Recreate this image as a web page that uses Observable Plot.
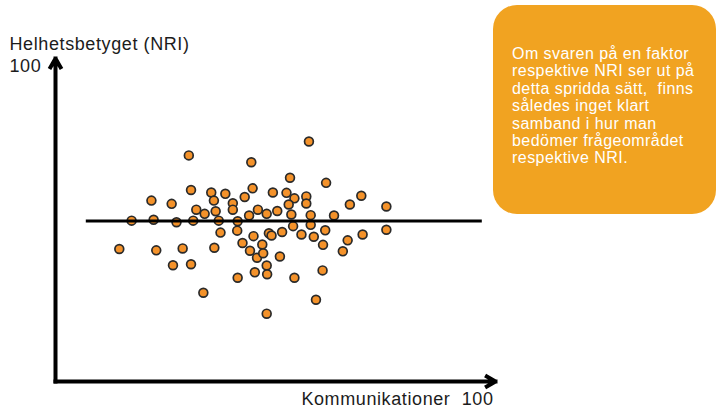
<!DOCTYPE html>
<html>
<head>
<meta charset="utf-8">
<script src="https://cdn.jsdelivr.net/npm/d3@7"></script>
<script src="https://cdn.jsdelivr.net/npm/@observablehq/plot@0.6"></script>
<style>
  html, body { margin: 0; padding: 0; background: #fff; }
  #wrap { position: relative; width: 717px; height: 411px; overflow: hidden; }
  #callout {
    position: absolute; left: 493px; top: 5px; width: 223px; height: 209px;
    box-sizing: border-box; border-radius: 24px; background: #F1A321;
    color: #fff; font-family: "Liberation Sans", Arial, sans-serif; font-size: 16px;
    letter-spacing: 0.45px; line-height: 17.4px; padding: 40px 0 0 19px;
    white-space: nowrap;
  }
</style>
</head>
<body>
<div id="wrap">
  <div id="chart"></div>
  <div id="callout"></div>
</div>
<script>
// Kommunikationer (x) and Helhetsbetyget NRI (y), scale 0–100
const kommunikation = [30.3,44.5,30.8,21.8,26.4,35.4,38.6,44.8,36.0,43.0,40.3,32.0,33.9,36.4,40.3,44.0,46.0,17.3,22.3,27.5,31.3,37.1,41.4,37.5,41.3,45.0,42.5,14.5,22.9,28.9,36.1,44.2,47.0,45.8,26.7,30.8,45.3,41.4,33.6,57.6,53.3,61.5,49.4,52.5,54.3,57.0,57.0,53.0,66.9,69.5,75.2,48.0,50.4,53.6,58.0,63.3,54.0,58.0,61.3,75.2,48.5,49.1,51.5,55.9,58.7,60.8,66.4,69.8,65.3,47.2,51.0,48.0,48.1,54.3,60.7,59.2,48.0];
const nri = [70.0,67.9,59.3,56.0,55.0,58.5,58.1,59.8,56.0,57.1,55.2,53.2,51.9,52.7,53.2,51.4,53.2,49.8,50.1,49.3,49.8,49.8,49.6,46.1,46.7,45.0,42.9,41.0,40.6,41.2,41.4,40.5,42.4,38.3,36.0,36.3,33.8,32.1,27.5,74.3,63.1,61.5,58.5,58.4,56.7,57.3,55.1,54.8,54.8,57.5,54.2,51.9,52.8,51.7,51.5,51.4,48.1,48.5,46.8,47.0,45.9,45.2,46.3,45.5,44.8,42.3,43.7,45.5,40.3,39.7,38.7,35.9,33.2,32.1,34.4,25.3,21.0];

// horizontal reference line (average level) and its extent
const refLevel = [49.7];
const refFrom = [7];
const refTo = [97];

// axis extents
const axisMin = [0];
const axisMax = [100];

// texts
const yLabel = ["Helhetsbetyget (NRI)"];
const yMaxLabel = ["100"];
const xLabel = ["Kommunikationer\u00a0 100"];
const calloutLines = ["Om svaren på en faktor", "respektive NRI ser ut på", "detta spridda sätt,\u00a0 finns", "således inget klart", "samband i hur man", "bedömer frågeområdet", "respektive NRI."];

const points = kommunikation.map((k, i) => ({k, n: nri[i]}));
const refLine = refLevel.map((v, i) => ({v, a: refFrom[i], b: refTo[i]}));
const axes = [
  {x1: axisMin[0], y1: axisMin[0], x2: axisMax[0], y2: axisMin[0]},
  {x1: axisMin[0], y1: axisMin[0], x2: axisMin[0], y2: axisMax[0]}
];

const font = "Liberation Sans, Arial, sans-serif";

const chart = Plot.plot({
  width: 717,
  height: 411,
  marginLeft: 55,
  marginRight: 222,
  marginTop: 58,
  marginBottom: 30,
  style: {fontFamily: font, background: "transparent"},
  x: {domain: [axisMin[0], axisMax[0]], axis: null},
  y: {domain: [axisMin[0], axisMax[0]], axis: null},
  marks: [
    Plot.dot(points, {x: "k", y: "n", r: 4.4, fill: "#F4922A", stroke: "#2a2a2a", strokeWidth: 1.7}),
    Plot.ruleY(refLine, {y: "v", x1: "a", x2: "b", stroke: "#000", strokeWidth: 3}),
    Plot.arrow(axes, {x1: "x1", y1: "y1", x2: "x2", y2: "y2", stroke: "#000", strokeWidth: 4, headLength: 3.75, headAngle: 60, strokeLinecap: "square", strokeLinejoin: "miter"}),
    Plot.text(yLabel, {frameAnchor: "top-left", textAnchor: "start", lineAnchor: "middle", dx: -46, dy: -14, fontSize: 18, fill: "#1c1c1c"}),
    Plot.text(yMaxLabel, {frameAnchor: "top-left", textAnchor: "start", lineAnchor: "middle", dx: -46, dy: 8, fontSize: 18, fill: "#1c1c1c"}),
    Plot.text(xLabel, {frameAnchor: "bottom-right", textAnchor: "end", lineAnchor: "middle", dx: -2, dy: 18, fontSize: 18, fill: "#1c1c1c"})
  ]
});
document.getElementById("chart").appendChild(chart);
chart.querySelectorAll("text").forEach(t => t.style.letterSpacing = "0.6px");

document.getElementById("callout").innerHTML = calloutLines.map(s => s.replace(/&/g, "&amp;")).join("<br>");
</script>
</body>
</html>
